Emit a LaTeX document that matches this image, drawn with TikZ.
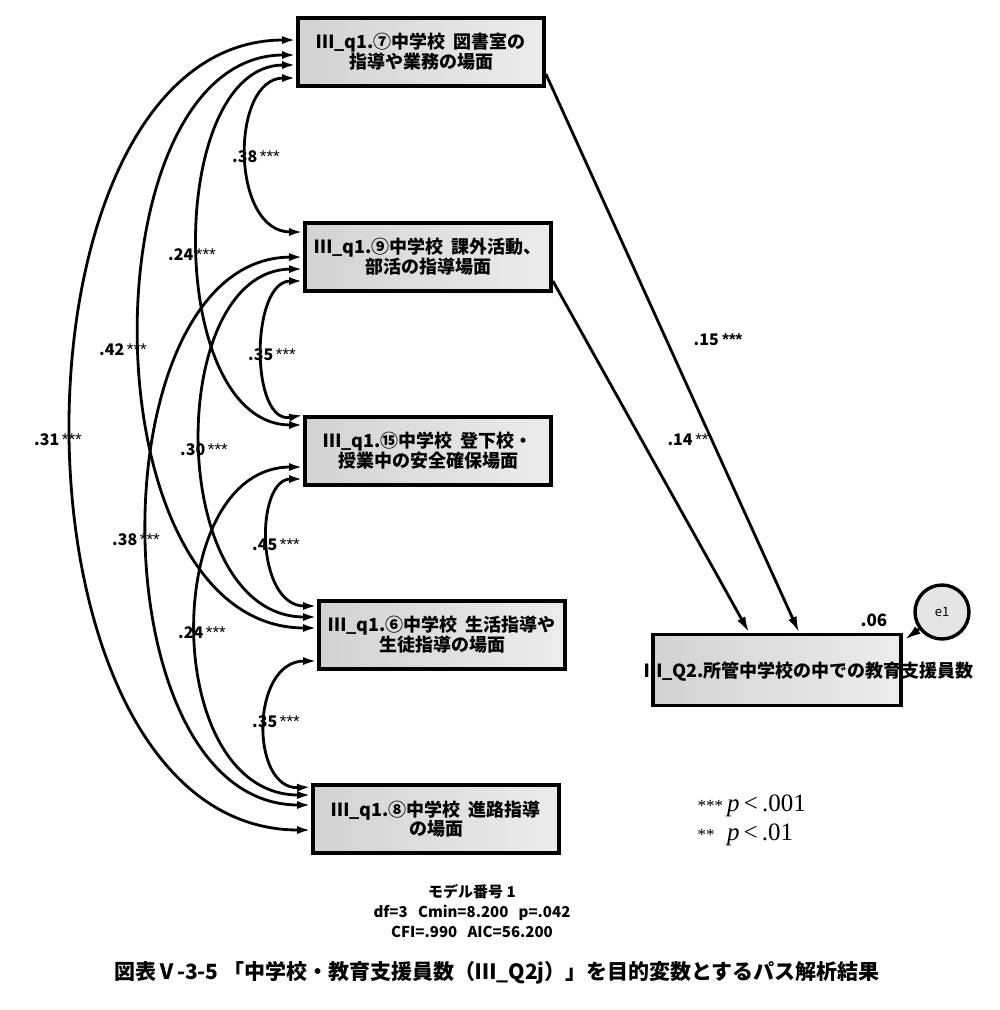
\documentclass[tikz,border=0pt]{standalone}
\usepackage{fontspec}
\newfontfamily\jp{Noto Sans CJK JP}
\newfontfamily\ser{Liberation Serif}
\newfontfamily\lsans{Liberation Sans}
\usetikzlibrary{arrows.meta,calc}
\newcommand{\stars}[1]{{\lsans\fontsize{17}{17}\selectfont #1}}
\begin{document}
\begin{tikzpicture}[x=1pt,y=-1pt,
  var/.style={draw,line width=3.8pt,left color=gray!35,right color=gray!15,minimum width=246pt,minimum height=68pt,align=center,font=\jp\bfseries\fontsize{18}{19}\selectfont},
  cov/.style={line width=2.8pt,{Latex[length=14pt,width=8pt]}-{Latex[length=14pt,width=8pt]}},
  reg/.style={line width=2.8pt,-{Latex[length=16pt,width=9pt]}},
  lab/.style={font=\jp\fontsize{16}{17}\selectfont,inner sep=1pt}]
\useasboundingbox (0,0) rectangle (1000,1010);
\node[var] (B1) at (421,52) {Ⅲ\_q1.⑦中学校\ \ 図書室の\\指導や業務の場面};
\node[var] (B2) at (428,257) {Ⅲ\_q1.⑨中学校\ \ 課外活動、\\部活の指導場面};
\node[var] (B3) at (428,451) {Ⅲ\_q1.⑮中学校\ \ 登下校・\\授業中の安全確保場面};
\node[var] (B4) at (442,635) {Ⅲ\_q1.⑥中学校\ \ 生活指導や\\生徒指導の場面};
\node[var] (B5) at (436,819) {Ⅲ\_q1.⑧中学校\ \ 進路指導\\の場面};
\node[var,minimum width=248pt,minimum height=71pt] (B6) at (777,670) {};
\node[font=\jp\bfseries\fontsize{18}{19}\selectfont] (B6t) at (809,672) {Ⅲ\_Q2.所管中学校の中での教育支援員数};
\node[draw,circle,line width=3.4pt,fill=gray!20,minimum size=54pt,inner sep=0pt,font=\jp\fontsize{13}{14}\selectfont] (e1) at (942,612) {e1};
\node[font=\jp\bfseries\fontsize{17}{18}\selectfont] (r2) at (874,620) {.06};
% covariances
\draw[cov] ($(B1.west)+(0,-12)$) .. controls (-5,40) and (-5,830) .. ($(B5.west)+(0,11)$);
\draw[cov] ($(B1.west)+(0,3)$) .. controls (85,55) and (85,628) .. ($(B4.west)+(0,-7)$);
\draw[cov] ($(B1.west)+(0,13)$) .. controls (165,65) and (165,425) .. ($(B3.west)+(0,-26)$);
\draw[cov] ($(B1.west)+(0,26)$) .. controls (230,78) and (230,232) .. ($(B2.west)+(0,-25)$);
\draw[cov] ($(B2.west)+(0,0)$) .. controls (95,258) and (95,805) .. ($(B5.west)+(0,-14)$);
\draw[cov] ($(B2.west)+(0,12)$) .. controls (165,270) and (165,617) .. ($(B4.west)+(0,-18)$);
\draw[cov] ($(B2.west)+(0,24)$) .. controls (250,281) and (250,425) .. ($(B3.west)+(0,-36)$);
\draw[cov] ($(B3.west)+(0,16)$) .. controls (160,467) and (160,795) .. ($(B5.west)+(0,-24)$);
\draw[cov] ($(B3.west)+(0,28)$) .. controls (255,479) and (255,606) .. ($(B4.west)+(0,-29)$);
\draw[cov] ($(B4.west)+(0,26)$) .. controls (250,661) and (250,790) .. ($(B5.west)+(0,-32)$);
% labels
\node[lab] (l1) at (58,440) {\textbf{.31}\,\stars{***}};
\node[lab] (l2) at (123,350) {\textbf{.42}\,\stars{***}};
\node[lab] (l3) at (192,255) {\textbf{.24}\,\stars{***}};
\node[lab] (l4) at (256,157) {\textbf{.38}\,\stars{***}};
\node[lab] (l5) at (136,540) {\textbf{.38}\,\stars{***}};
\node[lab] (l6) at (204,450) {\textbf{.30}\,\stars{***}};
\node[lab] (l7) at (272,355) {\textbf{.35}\,\stars{***}};
\node[lab] (l8) at (202,633) {\textbf{.24}\,\stars{***}};
\node[lab] (l9) at (276,545) {\textbf{.45}\,\stars{***}};
\node[lab] (l10) at (276,722) {\textbf{.35}\,\stars{***}};
% regressions
\draw[reg] ($(B1.east)+(0,22)$) -- ($(B6.north west)+(148,0)$);
\draw[reg] ($(B2.east)+(0,24)$) -- ($(B6.north west)+(98,0)$);
\draw[reg] (e1) -- ($(B6.north east)+(2,7)$);
\node[lab] (p1) at (718,340) {\textbf{.15\ \stars{***}}};
\node[lab] (p2) at (688,440) {\textbf{.14}\,\stars{**}};
% legend
\node[font=\ser\fontsize{25}{27}\selectfont,anchor=west] (lg1) at (694,806) {{\fontsize{17}{17}\selectfont ***}\,\textit{p}\,<\,.001};
\node[font=\ser\fontsize{25}{27}\selectfont,anchor=west] (lg2) at (694,835) {{\fontsize{17}{17}\selectfont **}\ \ \textit{p}\,<\,.01};
% bottom
\node[font=\jp\bfseries\fontsize{15}{20}\selectfont,align=center] (m) at (472,911) {モデル番号 1\\df=3\ \ \ Cmin=8.200\ \ \ p=.042\\CFI=.990\ \ \ AIC=56.200};
\node[font=\jp\bfseries\fontsize{21}{22}\selectfont] (cap) at (497,973) {図表Ⅴ-3-5\ 「中学校・教育支援員数（Ⅲ\_Q2j）」を目的変数とするパス解析結果};
\end{tikzpicture}
\end{document}
